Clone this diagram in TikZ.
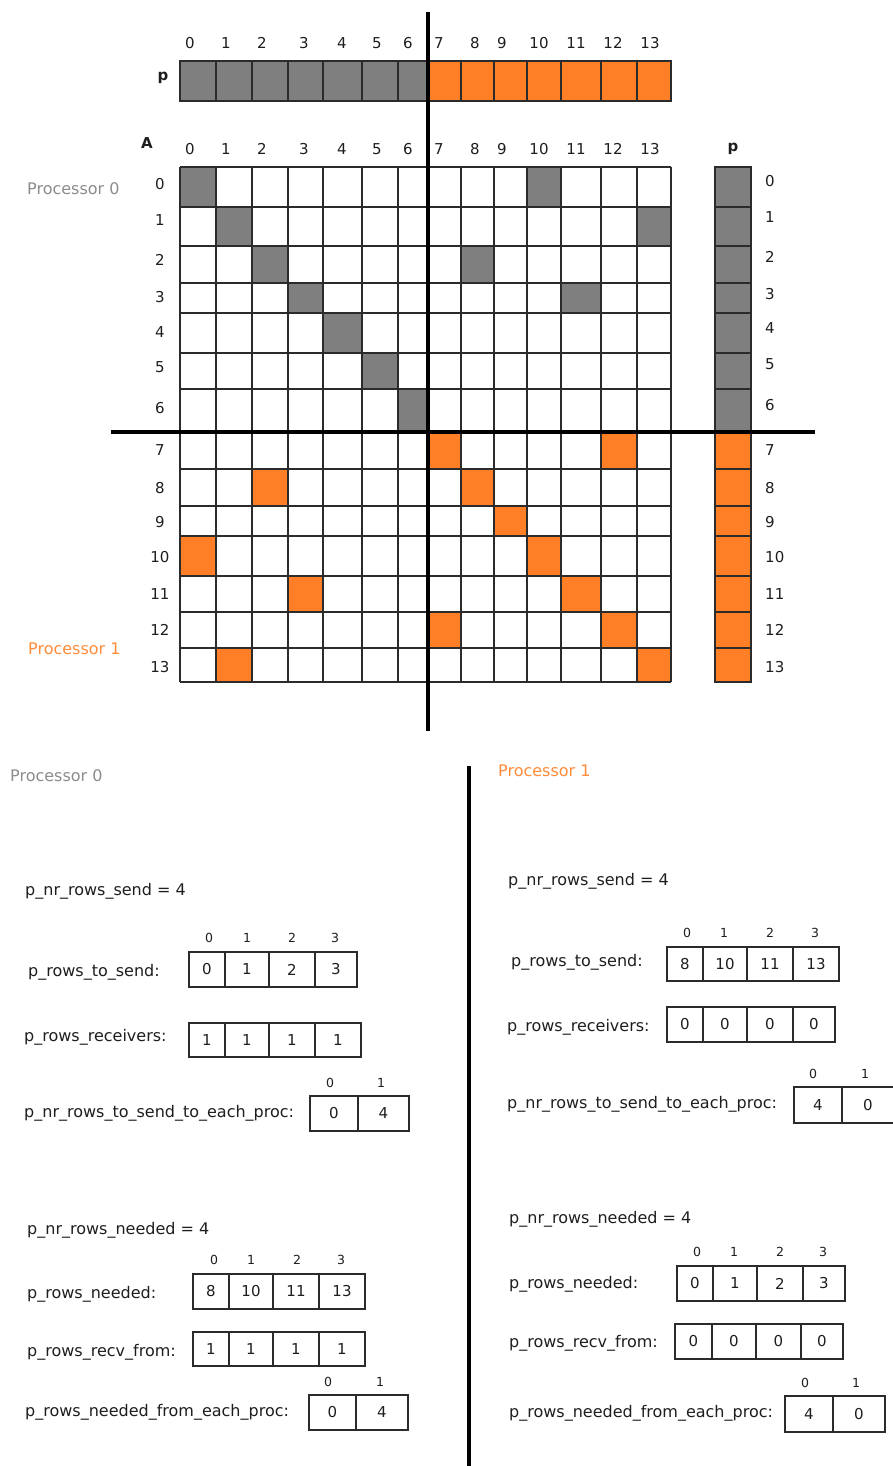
\documentclass[tikz,border=0pt]{standalone}
\usepackage{fontspec}
\setmainfont{DejaVu Sans}
\definecolor{gcell}{HTML}{7F7F7F}
\definecolor{ocell}{HTML}{FF7F27}
\definecolor{lin}{HTML}{2B2B2B}
\definecolor{txt}{HTML}{1E1E1E}
\definecolor{pgray}{HTML}{8C8C8C}
\definecolor{porange}{HTML}{FF8C3A}
\newcommand{\acell}[6]{\node[cellbox, minimum width={(#3-#2)*1pt}, minimum height={(#5-#4)*1pt}] (#1) at ({(#2+#3)/2},{(#4+#5)/2}) {#6};}
\begin{document}
\begin{tikzpicture}[x=1pt,y=-1pt,
  gridl/.style={draw=lin, line width=1.4pt},
  divider/.style={draw=black, line width=4pt},
  hnum/.style={text=txt, font=\fontsize{15}{18}\selectfont, inner sep=0pt},
  bold/.style={text=txt, font=\fontsize{15}{18}\selectfont\bfseries, inner sep=0pt},
  lbl/.style={text=txt, font=\fontsize{16}{19}\selectfont, inner sep=0pt, anchor=west, text height=12pt, text depth=4pt},
  proc/.style={font=\fontsize{16}{19}\selectfont, inner sep=0pt, anchor=west, text height=12pt, text depth=4pt},
  idx/.style={text=txt, font=\fontsize{12.5}{15}\selectfont, inner sep=0pt},
  cellbox/.style={draw=lin, line width=1.3pt, inner sep=0pt, outer sep=0pt, text=txt, font=\fontsize{15}{18}\selectfont}
]
\useasboundingbox (0,0) rectangle (892,1466);
\fill[white] (0,0) rectangle (892,1466);

% column and row boundaries
\foreach \i/\v in {0/180,1/216,2/252,3/288,4/323,5/362,6/398,7/428,8/461,9/494,10/527,11/561,12/601,13/637,14/671}
  {\coordinate (cb\i) at (\v,0);}
\foreach \j/\v in {0/167,1/207,2/246,3/283,4/313,5/353,6/389,7/432,8/469,9/506,10/536,11/576,12/612,13/648,14/682}
  {\coordinate (rb\j) at (0,\v);}
\coordinate (pt) at (0,61);
\coordinate (pb) at (0,101);
\coordinate (qa) at (715,0);
\coordinate (qb) at (751,0);

% top p array
\foreach \i [evaluate=\i as \k using int(\i+1)] in {0,...,6}
  {\fill[gcell] (cb\i |- pt) rectangle (cb\k |- pb);}
\foreach \i [evaluate=\i as \k using int(\i+1)] in {7,...,13}
  {\fill[ocell] (cb\i |- pt) rectangle (cb\k |- pb);}
\draw[gridl] (cb0 |- pt) rectangle (cb14 |- pb);
\foreach \i in {1,...,13} {\draw[gridl] (cb\i |- pt) -- (cb\i |- pb);}

% matrix A coloured cells
\foreach \r/\c in {0/0,1/1,2/2,3/3,4/4,5/5,6/6,0/10,1/13,2/8,3/11}
  {\pgfmathtruncatemacro\rr{\r+1}\pgfmathtruncatemacro\cc{\c+1}
   \fill[gcell] (cb\c |- rb\r) rectangle (cb\cc |- rb\rr);}
\foreach \r/\c in {7/7,7/12,8/2,8/8,9/9,10/0,10/10,11/3,11/11,12/7,12/12,13/1,13/13}
  {\pgfmathtruncatemacro\rr{\r+1}\pgfmathtruncatemacro\cc{\c+1}
   \fill[ocell] (cb\c |- rb\r) rectangle (cb\cc |- rb\rr);}
\foreach \i in {0,...,14} {\draw[gridl] (cb\i |- rb0) -- (cb\i |- rb14);}
\foreach \j in {0,...,14} {\draw[gridl] (cb0 |- rb\j) -- (cb14 |- rb\j);}

% right p column
\foreach \j [evaluate=\j as \k using int(\j+1)] in {0,...,6}
  {\fill[gcell] (qa |- rb\j) rectangle (qb |- rb\k);}
\foreach \j [evaluate=\j as \k using int(\j+1)] in {7,...,13}
  {\fill[ocell] (qa |- rb\j) rectangle (qb |- rb\k);}
\draw[gridl] (qa |- rb0) rectangle (qb |- rb14);
\foreach \j in {1,...,13} {\draw[gridl] (qa |- rb\j) -- (qb |- rb\j);}

% dividers
\coordinate (vt) at (428,12);
\coordinate (vb) at (428,731);
\coordinate (hl) at (111,432);
\coordinate (hr) at (815,432);
\coordinate (bt) at (469,766);
\coordinate (bb) at (469,1466);
\draw[divider] (vt) -- (vb);
\draw[divider] (hl) -- (hr);
\draw[divider] (bt) -- (bb);

% headers
\foreach \i/\x in {0/190,1/226,2/262,3/304,4/342,5/377,6/408,7/439,8/475,9/502,10/539,11/576,12/613,13/650}
  {\node[hnum] (ph\i) at (\x,43) {\i};
   \node[hnum] (ah\i) at (\x,149) {\i};}
\node[bold] (plab) at (163,78) {p};
\node[bold] (alab) at (147,143) {A};
\node[bold] (qlab) at (733,149) {p};
\foreach \i/\y in {0/184,1/220,2/260,3/297,4/332,5/367,6/408,7/450,8/488,9/522,10/557,11/594,12/630,13/667}
  {\node[hnum] (rl\i) at (160,\y) {\i};}
\foreach \i/\y in {0/181,1/217,2/257,3/294,4/328,5/364,6/405,7/450,8/488,9/522,10/557,11/594,12/630,13/667}
  {\node[hnum, anchor=west] (ql\i) at (765,\y) {\i};}
\node[proc, text=pgray] (tp0) at (27,190) {Processor 0};
\node[proc, text=porange] (tp1) at (28,650) {Processor 1};

% ---------- bottom: processor 0 ----------
\node[proc, text=pgray] (bp0) at (10,777) {Processor 0};
\node[lbl] (l0a) at (25,891) {p\_nr\_rows\_send = 4};
\node[lbl] (l0b) at (28,972) {p\_rows\_to\_send:};
\node[lbl] (l0c) at (24,1037) {p\_rows\_receivers:};
\node[lbl] (l0d) at (24,1113) {p\_nr\_rows\_to\_send\_to\_each\_proc:};
\node[lbl] (l0e) at (27,1230) {p\_nr\_rows\_needed = 4};
\node[lbl] (l0f) at (27,1294) {p\_rows\_needed:};
\node[lbl] (l0g) at (27,1352) {p\_rows\_recv\_from:};
\node[lbl] (l0h) at (25,1412) {p\_rows\_needed\_from\_each\_proc:};

\foreach \i/\x in {0/209,1/247,2/292,3/335} {\node[idx] (i0a\i) at (\x,938) {\i};}
\acell{a0s0}{189}{225}{952}{987}{0}
\acell{a0s1}{225}{269}{952}{987}{1}
\acell{a0s2}{269}{315}{952}{987}{2}
\acell{a0s3}{315}{357}{952}{987}{3}
\acell{a0r0}{189}{225}{1023}{1057}{1}
\acell{a0r1}{225}{269}{1023}{1057}{1}
\acell{a0r2}{269}{315}{1023}{1057}{1}
\acell{a0r3}{315}{361}{1023}{1057}{1}
\foreach \i/\x in {0/330,1/381} {\node[idx] (i0b\i) at (\x,1083) {\i};}
\acell{a0e0}{310}{358}{1096}{1131}{0}
\acell{a0e1}{358}{409}{1096}{1131}{4}
\foreach \i/\x in {0/214,1/251,2/297,3/341} {\node[idx] (i0c\i) at (\x,1260) {\i};}
\acell{a0n0}{193}{229}{1274}{1309}{8}
\acell{a0n1}{229}{273}{1274}{1309}{10}
\acell{a0n2}{273}{319}{1274}{1309}{11}
\acell{a0n3}{319}{365}{1274}{1309}{13}
\acell{a0f0}{193}{229}{1332}{1366}{1}
\acell{a0f1}{229}{273}{1332}{1366}{1}
\acell{a0f2}{273}{319}{1332}{1366}{1}
\acell{a0f3}{319}{365}{1332}{1366}{1}
\foreach \i/\x in {0/328,1/380} {\node[idx] (i0d\i) at (\x,1382) {\i};}
\acell{a0p0}{309}{356}{1395}{1430}{0}
\acell{a0p1}{356}{408}{1395}{1430}{4}

% ---------- bottom: processor 1 ----------
\node[proc, text=porange] (bp1) at (498,772) {Processor 1};
\node[lbl] (l1a) at (508,881) {p\_nr\_rows\_send = 4};
\node[lbl] (l1b) at (511,962) {p\_rows\_to\_send:};
\node[lbl] (l1c) at (507,1027) {p\_rows\_receivers:};
\node[lbl] (l1d) at (507,1104) {p\_nr\_rows\_to\_send\_to\_each\_proc:};
\node[lbl] (l1e) at (509,1219) {p\_nr\_rows\_needed = 4};
\node[lbl] (l1f) at (509,1284) {p\_rows\_needed:};
\node[lbl] (l1g) at (509,1343) {p\_rows\_recv\_from:};
\node[lbl] (l1h) at (509,1413) {p\_rows\_needed\_from\_each\_proc:};

\foreach \i/\x in {0/687,1/724,2/770,3/815} {\node[idx] (i1a\i) at (\x,933) {\i};}
\acell{a1s0}{667}{703}{947}{981}{8}
\acell{a1s1}{703}{747}{947}{981}{10}
\acell{a1s2}{747}{793}{947}{981}{11}
\acell{a1s3}{793}{839}{947}{981}{13}
\acell{a1r0}{667}{703}{1007}{1042}{0}
\acell{a1r1}{703}{747}{1007}{1042}{0}
\acell{a1r2}{747}{793}{1007}{1042}{0}
\acell{a1r3}{793}{835}{1007}{1042}{0}
\foreach \i/\x in {0/813,1/865} {\node[idx] (i1b\i) at (\x,1074) {\i};}
\acell{a1e0}{794}{842}{1087}{1123}{4}
\acell{a1e1}{842}{894}{1087}{1123}{0}
\foreach \i/\x in {0/697,1/734,2/780,3/823} {\node[idx] (i1c\i) at (\x,1252) {\i};}
\acell{a1n0}{677}{713}{1266}{1301}{0}
\acell{a1n1}{713}{757}{1266}{1301}{1}
\acell{a1n2}{757}{803}{1266}{1301}{2}
\acell{a1n3}{803}{845}{1266}{1301}{3}
\acell{a1f0}{675}{712}{1324}{1359}{0}
\acell{a1f1}{712}{756}{1324}{1359}{0}
\acell{a1f2}{756}{801}{1324}{1359}{0}
\acell{a1f3}{801}{843}{1324}{1359}{0}
\foreach \i/\x in {0/805,1/856} {\node[idx] (i1d\i) at (\x,1383) {\i};}
\acell{a1p0}{785}{833}{1396}{1432}{4}
\acell{a1p1}{833}{885}{1396}{1432}{0}
\end{tikzpicture}
\end{document}
